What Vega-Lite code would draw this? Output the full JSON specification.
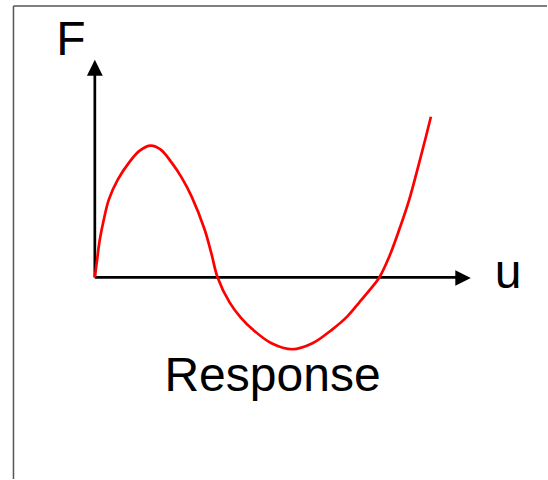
{
  "$schema": "https://vega.github.io/schema/vega-lite/v6.json",
  "width": 548,
  "height": 480,
  "padding": 0,
  "autosize": {"type": "fit", "contains": "padding"},
  "background": "white",
  "config": {"view": {"stroke": null}},
  "encoding": {
    "x": {"type": "quantitative", "scale": {"domain": [-0.95, 4.53], "nice": false, "zero": false}, "axis": null},
    "y": {"type": "quantitative", "scale": {"domain": [-2.02, 2.78], "nice": false, "zero": false}, "axis": null}
  },
  "layer": [
    {
      "data": {"values": [
        {"u": -0.815, "F": -2.02, "u2": -0.815, "F2": 2.72},
        {"u": -0.815, "F": 2.72, "u2": 4.53, "F2": 2.72}
      ]},
      "mark": {"type": "rule", "color": "#555555", "strokeWidth": 1.5},
      "encoding": {
        "x": {"field": "u"}, "y": {"field": "F"},
        "x2": {"field": "u2"}, "y2": {"field": "F2"}
      }
    },
    {
      "data": {"values": [
        {"u": 0, "F": 0, "u2": 0, "F2": 2.06},
        {"u": 0, "F": 0, "u2": 3.66, "F2": 0}
      ]},
      "mark": {"type": "rule", "color": "black", "strokeWidth": 2.7},
      "encoding": {
        "x": {"field": "u"}, "y": {"field": "F"},
        "x2": {"field": "u2"}, "y2": {"field": "F2"}
      }
    },
    {
      "data": {"values": [{"u": 0, "F": 2.101}]},
      "mark": {"type": "point", "shape": "M0,-1L-1,1L1,1Z", "filled": true, "color": "black", "opacity": 1, "size": 250},
      "encoding": {"x": {"field": "u"}, "y": {"field": "F"}}
    },
    {
      "data": {"values": [{"u": 3.689, "F": -0.005}]},
      "mark": {"type": "point", "shape": "M1,0L-1,-1L-1,1Z", "filled": true, "color": "black", "opacity": 1, "size": 240},
      "encoding": {"x": {"field": "u"}, "y": {"field": "F"}}
    },
    {
      "data": {"values": [
        {"u": 0, "F": 0},
        {"u": 0.023, "F": 0.18},
        {"u": 0.05, "F": 0.38},
        {"u": 0.09, "F": 0.58},
        {"u": 0.14, "F": 0.78},
        {"u": 0.23, "F": 0.98},
        {"u": 0.35, "F": 1.16},
        {"u": 0.45, "F": 1.27},
        {"u": 0.56, "F": 1.32},
        {"u": 0.66, "F": 1.28},
        {"u": 0.77, "F": 1.15},
        {"u": 0.87, "F": 1.0},
        {"u": 0.97, "F": 0.81},
        {"u": 1.1, "F": 0.48},
        {"u": 1.17, "F": 0.23},
        {"u": 1.23, "F": 0},
        {"u": 1.35, "F": -0.25},
        {"u": 1.46, "F": -0.4},
        {"u": 1.58, "F": -0.52},
        {"u": 1.77, "F": -0.66},
        {"u": 1.98, "F": -0.72},
        {"u": 2.18, "F": -0.66},
        {"u": 2.38, "F": -0.52},
        {"u": 2.53, "F": -0.39},
        {"u": 2.65, "F": -0.25},
        {"u": 2.75, "F": -0.13},
        {"u": 2.85, "F": 0},
        {"u": 2.95, "F": 0.21},
        {"u": 3.05, "F": 0.48},
        {"u": 3.15, "F": 0.78},
        {"u": 3.25, "F": 1.15},
        {"u": 3.317, "F": 1.41},
        {"u": 3.367, "F": 1.61}
      ]},
      "mark": {"type": "line", "color": "#ff0000", "strokeWidth": 2.7, "interpolate": "catmull-rom"},
      "encoding": {"x": {"field": "u"}, "y": {"field": "F"}}
    },
    {
      "data": {"values": [
        {"u": -0.24, "F": 2.23, "label": "F"},
        {"u": 4.14, "F": -0.11, "label": "u"},
        {"u": 1.78, "F": -1.14, "label": "Response"}
      ]},
      "mark": {"type": "text", "font": "Liberation Sans", "fontSize": 48, "color": "black", "align": "center", "baseline": "alphabetic"},
      "encoding": {"x": {"field": "u"}, "y": {"field": "F"}, "text": {"field": "label"}}
    }
  ]
}
